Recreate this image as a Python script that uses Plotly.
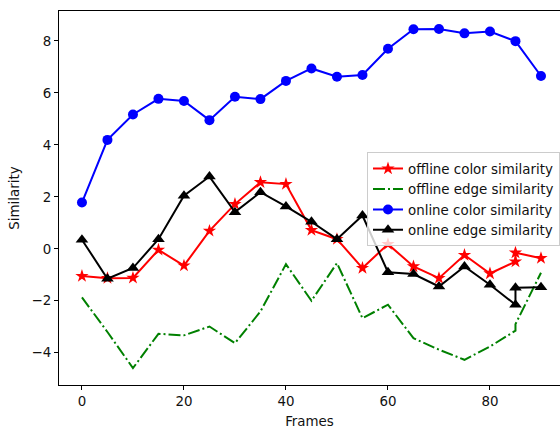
import plotly.graph_objects as go

# Data
frames_online_color = [0, 5, 10, 15, 20, 25, 30, 35, 40, 45, 50, 55, 60, 65, 70, 75, 80, 85, 90]
frames_other = [0, 5, 10, 15, 20, 25, 30, 35, 40, 45, 50, 55, 60, 65, 70, 75, 80, 85, 85, 90]

offline_color = [-1.05, -1.13, -1.12, -0.04, -0.65, 0.69, 1.72, 2.56, 2.49, 0.72, 0.37,
                 -0.74, 0.18, -0.68, -1.13, -0.24, -0.95, -0.49, -0.15, -0.36]
offline_edge = [-1.87, -3.2, -4.59, -3.27, -3.33, -2.99, -3.63, -2.41, -0.59, -2.0, -0.55,
                -2.67, -2.15, -3.44, -3.88, -4.27, -3.76, -3.15, -2.9, -0.92]
online_color = [1.78, 4.19, 5.17, 5.77, 5.69, 4.95, 5.85, 5.76, 6.46, 6.94, 6.62, 6.69,
                7.70, 8.45, 8.46, 8.29, 8.36, 7.99, 6.65]
online_edge = [0.35, -1.15, -0.74, 0.37, 2.04, 2.78, 1.41, 2.18, 1.63, 1.04, 0.37,
               1.28, -0.90, -0.97, -1.45, -0.68, -1.38, -2.15, -1.5, -1.48]

x_ticks = [0, 20, 40, 60, 80]
y_ticks = [-4, -2, 0, 2, 4, 6, 8]

FONT = "DejaVu Sans"
FS = 13.4
TXT = "#111111"

fig = go.Figure()
fig.add_trace(go.Scatter(
    x=frames_other, y=offline_color, mode="lines+markers",
    name="offline color similarity",
    line=dict(color="#ff0000", width=2),
    marker=dict(symbol="star", size=10, color="#ff0000"),
))
fig.add_trace(go.Scatter(
    x=frames_other, y=offline_edge, mode="lines",
    name="offline edge similarity",
    line=dict(color="#008000", width=2, dash="12px,3px,2px,3px"),
))
fig.add_trace(go.Scatter(
    x=frames_online_color, y=online_color, mode="lines+markers",
    name="online color similarity",
    line=dict(color="#0000ff", width=2),
    marker=dict(symbol="circle", size=10, color="#0000ff"),
))
fig.add_trace(go.Scatter(
    x=frames_other, y=online_edge, mode="lines+markers",
    name="online edge similarity",
    line=dict(color="#000000", width=2),
    marker=dict(symbol="triangle-up", size=11, color="#000000"),
))

fig.update_layout(
    width=560, height=432,
    margin=dict(l=59, r=0, t=11, b=47),
    paper_bgcolor="white", plot_bgcolor="white",
    font=dict(family=FONT, size=FS, color=TXT),
    showlegend=True,
    legend=dict(
        x=1.0, xanchor="right", y=0.622, yanchor="top",
        bgcolor="rgba(255,255,255,0.8)", bordercolor="#cccccc", borderwidth=1,
        font=dict(family=FONT, size=FS, color=TXT),
        itemwidth=30, tracegroupgap=0,
    ),
    xaxis=dict(
        range=[-4.5, 93.73], tickvals=x_ticks, ticktext=[str(v) for v in x_ticks],
        showgrid=False, zeroline=False, showline=True, linecolor="black", linewidth=1,
        mirror=True, ticks="outside", ticklen=4, tickcolor="black",
        title=dict(text="Frames", font=dict(family=FONT, size=FS), standoff=8),
    ),
    yaxis=dict(
        range=[-5.24, 9.15], tickvals=y_ticks,
        ticktext=[("\u2212" + str(-v)) if v < 0 else str(v) for v in y_ticks],
        showgrid=False, zeroline=False, showline=True, linecolor="black", linewidth=1,
        mirror=False, ticks="outside", ticklen=4, tickcolor="black",
        title=dict(text="Similarity", font=dict(family=FONT, size=FS), standoff=8),
    ),
)

fig.write_html("out.html")
